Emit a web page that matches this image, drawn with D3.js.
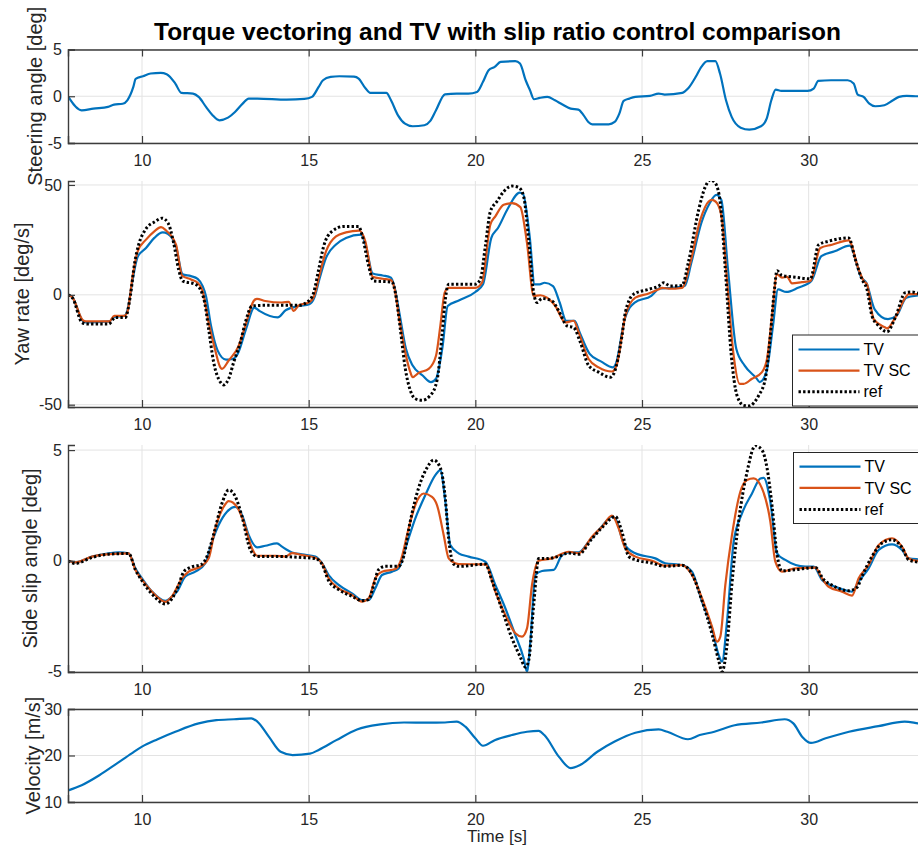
<!DOCTYPE html>
<html>
<head>
<meta charset="utf-8">
<script src="https://cdn.jsdelivr.net/npm/d3@7"></script>
<style>
  html, body { margin: 0; padding: 0; background: #fff; }
  svg { display: block; font-family: "Liberation Sans", Arial, Helvetica, sans-serif; }
</style>
</head>
<body>
<svg id="chart" width="918" height="849"></svg>
<script>
// ---------- data ----------
const xTicks = [10, 15, 20, 25, 30];

// steering angle [deg]
const steerT = [7.78, 8.19, 8.54, 8.98, 9.16, 9.42, 9.56, 9.74, 9.81, 10.03, 10.26, 10.56, 10.74, 11.0, 11.18, 11.53, 11.7, 11.92, 12.11, 12.32, 12.58, 12.79, 13.02, 13.2, 13.46, 14.34, 14.87, 15.1, 15.3, 15.43, 15.66, 15.92, 16.36, 16.5, 16.71, 16.85, 17.33, 17.47, 17.68, 17.89, 18.12, 18.47, 18.65, 18.82, 19.09, 19.44, 19.79, 20.05, 20.23, 20.4, 20.58, 20.76, 21.2, 21.34, 21.51, 21.64, 21.76, 21.93, 22.16, 22.39, 22.6, 22.86, 23.09, 23.25, 23.39, 23.51, 24.0, 24.18, 24.32, 24.45, 24.62, 24.8, 25.24, 25.5, 25.68, 26.21, 26.38, 26.64, 26.78, 26.96, 27.2, 27.34, 27.52, 27.69, 27.96, 28.22, 28.57, 28.74, 28.88, 29.01, 29.18, 29.97, 30.15, 30.29, 30.67, 31.17, 31.35, 31.47, 31.65, 31.82, 32.0, 32.27, 32.53, 32.71, 32.94, 33.29, 33.6];
const steerDeg = [0, -1.5, -1.32, -1.14, -0.9, -0.8, -0.43, 1.0, 1.86, 2.14, 2.43, 2.5, 2.36, 1.36, 0.36, 0.29, -0.07, -1.14, -2.0, -2.57, -2.29, -1.68, -0.79, -0.25, -0.25, -0.36, -0.29, -0.07, 1.0, 1.71, 2.07, 2.14, 2.1, 1.89, 0.82, 0.36, 0.36, -0.43, -2.04, -2.93, -3.21, -3.1, -2.64, -1.5, 0.21, 0.29, 0.29, 0.46, 1.54, 2.79, 3.14, 3.68, 3.75, 3.5, 1.71, 0.64, -0.32, -0.18, -0.07, -0.43, -0.86, -1.32, -1.43, -2.04, -2.75, -3.0, -3.0, -2.75, -1.86, -0.5, -0.25, -0.07, 0.04, 0.29, 0.18, 0.36, 0.82, 2.25, 3.14, 3.75, 3.75, 2.43, -0.43, -2.21, -3.36, -3.57, -3.21, -2.39, -0.43, 0.71, 0.57, 0.57, 0.82, 1.64, 1.71, 1.71, 1.36, 0.18, -0.07, -0.79, -1.07, -0.96, -0.43, -0.07, 0.04, 0, 0];

// yaw rate [deg/s]
const yawTvT = [7.78, 7.92, 8.22, 8.32, 9.02, 9.17, 9.47, 9.57, 9.72, 9.87, 10.12, 10.37, 10.62, 10.77, 11.02, 11.22, 11.47, 11.67, 11.82, 11.92, 12.07, 12.27, 12.52, 12.72, 12.87, 13.12, 13.37, 13.52, 14.07, 14.32, 14.72, 15.02, 15.17, 15.32, 15.52, 15.82, 16.12, 16.57, 16.72, 16.92, 17.22, 17.47, 17.57, 17.72, 17.92, 18.12, 18.42, 18.67, 18.82, 19.02, 19.17, 19.52, 20.0, 20.23, 20.48, 20.68, 20.98, 21.33, 21.43, 21.63, 21.78, 21.93, 22.08, 22.33, 22.53, 22.73, 22.98, 23.13, 23.43, 23.78, 24.13, 24.23, 24.48, 24.78, 25.28, 25.53, 25.88, 26.28, 26.48, 26.78, 27.03, 27.23, 27.38, 27.58, 27.83, 28.08, 28.43, 28.53, 28.73, 28.93, 29.08, 29.33, 29.68, 30.08, 30.38, 30.78, 31.23, 31.58, 31.73, 31.98, 32.38, 32.63, 32.93, 33.28, 33.6];
const yawTv = [0.2, -1.3, -11.8, -12.6, -12.1, -10, -9.6, -6.6, 6.9, 17.3, 21.3, 25.9, 28.4, 27.8, 22, 9.3, 8.5, 7.3, 3.9, -0.6, -14.1, -25.4, -29.5, -29.2, -26.9, -15.6, -5.8, -7.3, -10.3, -6.9, -5.1, -4.3, -1.3, 7, 16.8, 22.9, 25.9, 27.4, 22.1, 9.7, 8.8, 7.8, 3.9, -8.1, -24.7, -32.2, -36.7, -39.7, -38.2, -23.2, -5.1, -2.5, 1.3, 4.8, 25.9, 30.4, 39.4, 46.5, 45.9, 26.6, 4.8, 4.8, 5.5, 4, -3.5, -11.8, -11.8, -17.1, -26.9, -30.4, -33, -30.7, -11.1, -3.5, -0.5, 2.9, 3.2, 4, 14.6, 32.7, 41.7, 45.5, 43.2, 11.5, -24.7, -32.2, -37.9, -39.7, -35.2, -14.1, 2.5, 1.3, 3.2, 6.3, 17.6, 19.8, 22.4, 7.8, 5.5, -6.6, -11.1, -9.6, -1.3, -0.3, 0];

const yawScT = [7.78, 7.92, 8.22, 8.32, 9.02, 9.17, 9.47, 9.57, 9.72, 9.87, 10.12, 10.37, 10.57, 10.72, 11.02, 11.2, 11.47, 11.67, 11.82, 12.0, 12.2, 12.35, 12.4, 12.6, 12.9, 13.1, 13.35, 13.45, 13.7, 14.2, 14.4, 14.55, 14.7, 15.0, 15.17, 15.32, 15.52, 15.82, 16.12, 16.52, 16.7, 16.92, 17.22, 17.47, 17.57, 17.72, 17.92, 18.05, 18.12, 18.3, 18.6, 18.82, 18.95, 19.08, 19.2, 19.5, 20.0, 20.2, 20.45, 20.6, 20.85, 21.1, 21.35, 21.55, 21.75, 21.95, 22.15, 22.4, 22.7, 22.95, 23.1, 23.4, 23.7, 24.1, 24.25, 24.5, 24.8, 25.2, 25.5, 25.6, 25.8, 26.2, 26.45, 26.75, 27.0, 27.1, 27.25, 27.4, 27.55, 27.75, 27.93, 28.05, 28.3, 28.6, 28.75, 28.9, 29.05, 29.2, 29.35, 29.5, 29.8, 30.05, 30.35, 30.7, 31.2, 31.5, 31.65, 31.75, 31.95, 32.3, 32.35, 32.6, 32.9, 33.0, 33.3, 33.6];
const yawSc = [0, -1.3, -11.5, -12.1, -12.1, -9.6, -9.6, -7.3, 8.5, 19.8, 25.1, 28.9, 30.8, 29.3, 22.8, 8.8, 7, 5.5, 1.7, -12.6, -25.4, -33, -33.7, -29.9, -23.2, -14.1, -2.8, -1.8, -2.8, -3.5, -3.2, -7.3, -4.8, -3.5, -0.3, 8.8, 19.8, 26.6, 28.4, 29.2, 24.4, 8.2, 7.3, 6.7, 3.2, -11.1, -27.7, -35.2, -37.5, -35.5, -33.7, -27.7, -14.1, 1, 3.2, 3.2, 3.2, 5.5, 31.9, 35.7, 41, 41.7, 39.9, 23.6, -0.5, -0.2, -1.3, -5.1, -12.6, -11.8, -17.1, -29.2, -33, -34.9, -31.4, -9.6, -1.3, 0.6, 2.5, 3.2, 2.8, 3.2, 14.6, 34.2, 42.5, 43.2, 41.7, 34.2, 6.9, -27.7, -40.5, -40.5, -38.2, -35.2, -29.2, -9.6, 9.3, 7.8, 8.2, 5.2, 5.8, 6.3, 21.3, 22.8, 24.8, 11.5, 6.3, 4.8, -11.1, -14.9, -15.3, -10.3, -1.3, 0.3, 0.3, 0.3];

const yawRefT = [7.78, 7.92, 8.2, 8.35, 9.0, 9.2, 9.5, 9.65, 9.78, 9.9, 10.1, 10.4, 10.6, 10.78, 10.95, 11.1, 11.22, 11.6, 11.75, 11.88, 12.0, 12.15, 12.35, 12.45, 12.6, 12.75, 12.95, 13.1, 13.3, 13.6, 14.7, 15.0, 15.15, 15.3, 15.45, 15.7, 16.05, 16.5, 16.6, 16.8, 16.95, 17.5, 17.6, 17.75, 17.9, 18.05, 18.2, 18.4, 18.65, 18.85, 19.0, 19.1, 19.2, 19.5, 20.0, 20.15, 20.3, 20.45, 20.65, 20.85, 21.1, 21.3, 21.45, 21.6, 21.75, 21.85, 22.0, 22.3, 22.5, 22.75, 22.95, 23.15, 23.4, 23.7, 24.05, 24.15, 24.4, 24.5, 24.75, 25.2, 25.5, 25.65, 25.85, 26.2, 26.4, 26.7, 26.9, 27.05, 27.2, 27.35, 27.5, 27.68, 27.85, 28.05, 28.2, 28.5, 28.7, 28.85, 28.97, 29.05, 29.2, 29.6, 30.05, 30.3, 30.6, 31.2, 31.4, 31.6, 31.75, 31.9, 32.1, 32.35, 32.6, 32.9, 33.1, 33.3, 33.6];
const yawRef = [0, -1.5, -12.6, -13.3, -13.3, -10.3, -10.3, -0.5, 14.6, 22.8, 29.6, 33.4, 34.9, 32.7, 23.6, 11.5, 6.3, 4.8, 2.5, -3.5, -15.6, -30.7, -39.7, -41, -38.2, -30.7, -21.6, -12.6, -5.1, -4.8, -4.8, -2.8, 1, 11.5, 22.1, 28.9, 31.1, 31.1, 27.4, 13.1, 6.3, 5.8, 1, -15.6, -33.7, -43.5, -47.3, -48, -45.8, -39, -18.6, -2, 4.8, 4.8, 4.8, 7, 22.1, 37.9, 42.5, 47, 49.5, 48.9, 44.7, 25.1, 0.9, -3.5, -1.7, -2.8, -7.3, -14.1, -14.9, -21.6, -32.2, -35.2, -37.5, -36, -18.6, -8.1, 0.3, 2.5, 4, 5.5, 4, 4.3, 15.3, 38.7, 49.2, 52.3, 50.8, 41.7, 11.5, -27.7, -45.8, -50.3, -50.6, -45.8, -38.2, -18.6, 2, 11, 8.8, 8, 7.3, 22.8, 24.4, 25.9, 16.1, 7, 2.5, -9.6, -14.1, -16.8, -10.3, 1, 1.3, 0.7, 0.7];

// side slip angle [deg]
const slipTvT = [7.78, 8.0, 8.5, 9.0, 9.3, 9.6, 9.8, 10.0, 10.3, 10.7, 10.9, 11.05, 11.3, 11.6, 11.9, 12.1, 12.3, 12.55, 12.8, 13.0, 13.2, 13.45, 13.7, 14.05, 14.2, 14.5, 14.8, 15.2, 15.4, 15.6, 15.9, 16.3, 16.6, 16.8, 17.0, 17.2, 17.5, 17.7, 17.9, 18.2, 18.5, 18.8, 18.95, 19.1, 19.25, 19.5, 19.8, 20.3, 20.6, 20.9, 21.2, 21.45, 21.55, 21.65, 21.8, 22.0, 22.35, 22.6, 22.8, 23.1, 23.4, 23.75, 24.1, 24.2, 24.45, 24.8, 25.4, 25.7, 26.2, 26.5, 26.8, 27.1, 27.3, 27.4, 27.55, 27.75, 28.0, 28.3, 28.55, 28.65, 28.85, 29.05, 29.3, 29.9, 30.15, 30.4, 30.8, 31.3, 31.5, 31.8, 32.1, 32.5, 32.8, 33.0, 33.3, 33.6];
const slipTv = [0, -0.07, 0.19, 0.34, 0.38, 0.34, -0.34, -0.79, -1.39, -1.81, -1.62, -1.39, -0.71, -0.49, -0.11, 0.86, 1.62, 2.22, 2.44, 2.07, 1.17, 0.61, 0.68, 0.79, 0.64, 0.38, 0.29, 0.19, -0.11, -0.64, -1.09, -1.47, -1.77, -1.77, -1.24, -0.64, -0.49, -0.34, 0.56, 1.92, 2.97, 3.87, 4.1, 2.67, 0.71, 0.34, 0.19, -0.04, -1.09, -2.14, -3.35, -4.4, -5.0, -3.65, -0.64, -0.46, -0.41, 0.26, 0.38, 0.38, 0.86, 1.47, 1.99, 1.92, 0.79, 0.34, 0.11, -0.11, -0.19, -0.49, -1.84, -3.05, -4.25, -4.55, -2.74, 0.86, 2.14, 3.04, 3.72, 3.75, 2.67, 0.34, 0.04, -0.26, -0.26, -0.86, -1.17, -1.39, -0.94, -0.34, 0.49, 0.74, 0.49, 0.11, 0.07, 0.05];

const slipScT = [7.78, 8.0, 8.5, 9.0, 9.6, 9.8, 10.0, 10.3, 10.7, 10.9, 11.2, 11.4, 11.8, 12.0, 12.2, 12.45, 12.6, 12.85, 13.05, 13.3, 13.45, 14.0, 14.3, 14.5, 14.8, 15.2, 15.4, 15.6, 15.9, 16.3, 16.6, 16.8, 17.0, 17.2, 17.6, 17.75, 18.0, 18.2, 18.45, 18.7, 18.85, 19.05, 19.2, 19.4, 19.5, 20.3, 20.6, 20.9, 21.2, 21.4, 21.55, 21.7, 21.9, 22.3, 22.8, 23.1, 23.5, 23.8, 24.1, 24.3, 24.5, 24.8, 25.3, 25.7, 26.2, 26.5, 26.8, 27.1, 27.25, 27.35, 27.5, 27.7, 27.95, 28.15, 28.35, 28.6, 28.85, 29.0, 29.2, 29.6, 30.2, 30.4, 30.6, 31.0, 31.3, 31.5, 31.8, 32.1, 32.5, 32.8, 33.0, 33.3, 33.6];
const slipSc = [0, -0.07, 0.19, 0.3, 0.34, -0.4, -0.85, -1.4, -1.85, -1.6, -0.79, -0.49, -0.22, 0.11, 1.47, 2.44, 2.7, 2.44, 1.77, 0.56, 0.23, 0.23, 0.19, 0.35, 0.26, 0.14, -0.11, -0.79, -1.24, -1.54, -1.84, -1.69, -0.79, -0.49, -0.37, -0.04, 1.47, 2.52, 3.04, 2.89, 2.52, 1.17, 0.11, -0.11, -0.15, -0.16, -1.39, -2.44, -3.27, -3.42, -3.05, -1.09, 0, 0.11, 0.41, 0.34, 1.09, 1.54, 2.04, 1.47, 0.56, 0.19, 0, -0.22, -0.19, -0.64, -1.69, -2.97, -3.65, -3.42, -1.09, 1.17, 3.12, 3.65, 3.72, 3.27, 1.77, -0.04, -0.49, -0.34, -0.31, -0.79, -1.17, -1.39, -1.57, -0.79, -0.19, 0.71, 1.02, 0.64, 0.11, 0, 0];

const slipRefT = [7.78, 8.0, 8.5, 9.0, 9.6, 9.8, 10.0, 10.3, 10.7, 10.9, 11.1, 11.25, 11.45, 11.8, 11.95, 12.15, 12.4, 12.6, 12.8, 13.0, 13.25, 13.45, 14.0, 14.8, 15.2, 15.4, 15.6, 15.9, 16.3, 16.6, 16.8, 16.95, 17.1, 17.3, 17.7, 17.85, 18.05, 18.3, 18.55, 18.75, 18.95, 19.1, 19.2, 19.35, 19.5, 20.3, 20.5, 20.8, 21.1, 21.35, 21.5, 21.6, 21.75, 21.9, 22.1, 22.5, 22.8, 23.1, 23.5, 23.8, 24.2, 24.4, 24.6, 24.8, 25.3, 25.7, 26.2, 26.5, 26.8, 27.1, 27.3, 27.4, 27.55, 27.7, 27.9, 28.15, 28.4, 28.6, 28.75, 28.9, 29.05, 29.2, 29.6, 30.2, 30.45, 30.7, 31.2, 31.45, 31.6, 31.9, 32.2, 32.5, 32.8, 33.0, 33.3, 33.6];
const slipRef = [0, -0.12, 0.15, 0.3, 0.33, -0.4, -0.9, -1.5, -1.95, -1.7, -1.1, -0.5, -0.3, -0.15, 0.2, 1.2, 2.6, 3.2, 2.9, 2.0, 0.5, 0.2, 0.2, 0.15, 0.1, -0.15, -0.9, -1.3, -1.6, -1.8, -1.75, -1.1, -0.4, -0.25, -0.25, 0.2, 1.8, 3.3, 4.2, 4.55, 4.2, 2.8, 1.0, -0.15, -0.25, -0.15, -0.9, -2.2, -3.5, -4.35, -4.8, -4.5, -2.0, 0.1, 0.1, 0.2, 0.35, 0.3, 1.0, 1.5, 2.0, 1.3, 0.2, 0.05, -0.1, -0.25, -0.2, -0.6, -1.8, -3.3, -4.5, -5.0, -3.8, -1.0, 1.8, 4.0, 5.2, 5.0, 4.2, 2.5, 0.3, -0.45, -0.4, -0.3, -0.85, -1.1, -1.35, -1.2, -0.7, 0.2, 0.8, 0.95, 0.6, 0.05, -0.05, -0.05];

// velocity [m/s]
const velT = [7.79, 8.19, 8.72, 9.25, 9.68, 10.0, 10.47, 11.0, 11.7, 12.23, 12.76, 13.28, 13.46, 13.81, 14.16, 14.52, 15.04, 15.3, 15.83, 16.45, 17.15, 17.86, 18.56, 19.09, 19.44, 19.7, 20.0, 20.23, 20.58, 21.1, 21.55, 21.9, 22.07, 22.51, 22.86, 23.13, 23.66, 24.18, 24.8, 25.5, 25.76, 26.38, 26.73, 27.17, 27.78, 28.58, 29.28, 29.54, 29.81, 30.07, 30.51, 31.21, 32.09, 32.88, 33.29, 33.6];
const velMs = [12.5, 13.6, 15.75, 18.3, 20.4, 21.9, 23.5, 25.1, 26.9, 27.6, 27.8, 28.0, 27.3, 24.0, 20.8, 20.1, 20.4, 21.2, 23.3, 25.6, 26.7, 27.1, 27.05, 27.1, 27.3, 26.2, 23.7, 22.1, 23.3, 24.4, 25.1, 25.3, 24.4, 19.7, 17.3, 17.9, 20.8, 23.0, 24.9, 25.6, 25.1, 23.5, 24.4, 25.1, 26.5, 27.1, 27.8, 26.9, 24.0, 22.7, 23.7, 25.1, 26.3, 27.3, 26.9, 26.6];

const seriesNames = ["TV", "TV SC", "ref"];

// ---------- drawing ----------
const svg = d3.select("#chart");
const colBlue = "#0072BD", colOrange = "#D95319", colRef = "#000000";
const axisCol = "#3c3c3c", gridCol = "#e3e3e3", textCol = "#262626";
const fontFam = "Liberation Sans, Arial, sans-serif";
const plainNum = d => String(d);   // hyphen-minus for negative ticks

const x = d3.scaleLinear().domain([7.78, 33.55]).range([68, 927]);

svg.append("text")
  .attr("x", 497.5).attr("y", 40)
  .attr("text-anchor", "middle")
  .attr("font-size", 24.5).attr("font-weight", "bold").attr("fill", "#000")
  .text("Torque vectoring and TV with slip ratio control comparison");

const panels = [
  { top: 49.5, bottom: 143, dom: [-5, 5], ticks: [-5, 0, 5], box: true,
    label: "Steering angle [deg]", labelX: 42,
    lines: [{ t: steerT, v: steerDeg, c: colBlue }] },
  { top: 181, bottom: 407, dom: [-51.05, 51.8], ticks: [-50, 0, 50], box: false,
    label: "Yaw rate [deg/s]", labelX: 29,
    lines: [{ t: yawTvT, v: yawTv, c: colBlue }, { t: yawScT, v: yawSc, c: colOrange }, { t: yawRefT, v: yawRef, c: colRef, dot: true }],
    legend: { x: 792.5, y: 335, h: 71, rows: [349.5, 370.7, 391.7] } },
  { top: 445, bottom: 672, dom: [-5.02, 5.23], ticks: [-5, 0, 5], box: false,
    label: "Side slip angle [deg]", labelX: 36.5,
    lines: [{ t: slipTvT, v: slipTv, c: colBlue }, { t: slipScT, v: slipSc, c: colOrange }, { t: slipRefT, v: slipRef, c: colRef, dot: true }],
    legend: { x: 793.5, y: 452.5, h: 71, rows: [466.7, 487.9, 509.5] } },
  { top: 709, bottom: 802, dom: [10, 30], ticks: [10, 20, 30], box: true,
    label: "Velocity [m/s]", labelX: 40,
    lines: [{ t: velT, v: velMs, c: colBlue }] }
];

panels.forEach((p, i) => {
  const y = d3.scaleLinear().domain(p.dom).range([p.bottom, p.top]);
  const g = svg.append("g");
  const [x0, x1] = x.range();

  // grid
  g.selectAll(".gx").data(xTicks).enter().append("line")
    .attr("x1", d => x(d)).attr("x2", d => x(d))
    .attr("y1", p.top).attr("y2", p.bottom)
    .attr("stroke", gridCol).attr("stroke-width", 1);
  g.selectAll(".gy").data(p.ticks).enter().append("line")
    .attr("x1", x0).attr("x2", x1)
    .attr("y1", d => y(d)).attr("y2", d => y(d))
    .attr("stroke", gridCol).attr("stroke-width", 1);

  // data lines
  const clipId = "clip" + i;
  svg.append("clipPath").attr("id", clipId).append("rect")
    .attr("x", x0).attr("y", p.top).attr("width", x1 - x0).attr("height", p.bottom - p.top);
  const lg = g.append("g").attr("clip-path", `url(#${clipId})`);
  p.lines.forEach(s => {
    const pts = s.t.map((t, k) => [t, s.v[k]]);
    const path = lg.append("path")
      .datum(pts)
      .attr("fill", "none")
      .attr("stroke", s.c)
      .attr("stroke-width", s.dot ? 3 : 2.2)
      .attr("stroke-linejoin", "round")
      .attr("d", d3.line().x(d => x(d[0])).y(d => y(d[1])).curve(d3.curveMonotoneX));
    if (s.dot) path.attr("stroke-dasharray", "2.4,2.2");
  });

  // axes (D3 axis generators, inward ticks)
  const xAxis = d3.axisBottom(x).tickValues(xTicks).tickSize(-7).tickPadding(12).tickFormat(plainNum);
  const gx = g.append("g").attr("transform", `translate(0,${p.bottom})`).call(xAxis);
  gx.select(".domain").attr("stroke", axisCol).attr("stroke-width", 1.4);
  gx.selectAll(".tick line").attr("stroke", axisCol).attr("stroke-width", 1.2);
  gx.selectAll(".tick text").attr("fill", textCol).attr("font-size", 16).attr("font-family", fontFam);

  const yAxis = d3.axisLeft(y).tickValues(p.ticks).tickSize(-7).tickPadding(6).tickFormat(plainNum);
  const gy = g.append("g").attr("transform", `translate(${x0},0)`).call(yAxis);
  gy.select(".domain").attr("stroke", axisCol).attr("stroke-width", 1.4);
  gy.selectAll(".tick line").attr("stroke", axisCol).attr("stroke-width", 1.2);
  gy.selectAll(".tick text").attr("fill", textCol).attr("font-size", 16).attr("font-family", fontFam);

  if (p.box) {
    const xTop = d3.axisTop(x).tickValues(xTicks).tickSize(-7).tickFormat("");
    const gt = g.append("g").attr("transform", `translate(0,${p.top})`).call(xTop);
    gt.select(".domain").attr("stroke", axisCol).attr("stroke-width", 1.4);
    gt.selectAll(".tick line").attr("stroke", axisCol).attr("stroke-width", 1.2);
  }

  // y label
  svg.append("text")
    .attr("transform", `translate(${p.labelX},${(p.top + p.bottom) / 2}) rotate(-90)`)
    .attr("text-anchor", "middle")
    .attr("font-size", 20).attr("fill", textCol)
    .text(p.label);

  // legend
  if (p.legend) {
    const L = p.legend;
    const lgd = svg.append("g");
    lgd.append("rect").attr("x", L.x).attr("y", L.y).attr("width", 140).attr("height", L.h)
      .attr("fill", "#fff").attr("stroke", "#262626").attr("stroke-width", 1);
    p.lines.forEach((s, k) => {
      const ln = lgd.append("line")
        .attr("x1", L.x + 6).attr("x2", L.x + 67)
        .attr("y1", L.rows[k]).attr("y2", L.rows[k])
        .attr("stroke", s.c).attr("stroke-width", s.dot ? 3 : 2.2);
      if (s.dot) ln.attr("stroke-dasharray", "2.4,2.2");
      lgd.append("text").attr("x", L.x + 71).attr("y", L.rows[k]).attr("dy", "0.35em")
        .attr("font-size", 16).attr("fill", "#000").text(seriesNames[k]);
    });
  }
});

// x label
svg.append("text")
  .attr("x", 497).attr("y", 842)
  .attr("text-anchor", "middle")
  .attr("font-size", 17).attr("fill", textCol)
  .text("Time [s]");
</script>
</body>
</html>
